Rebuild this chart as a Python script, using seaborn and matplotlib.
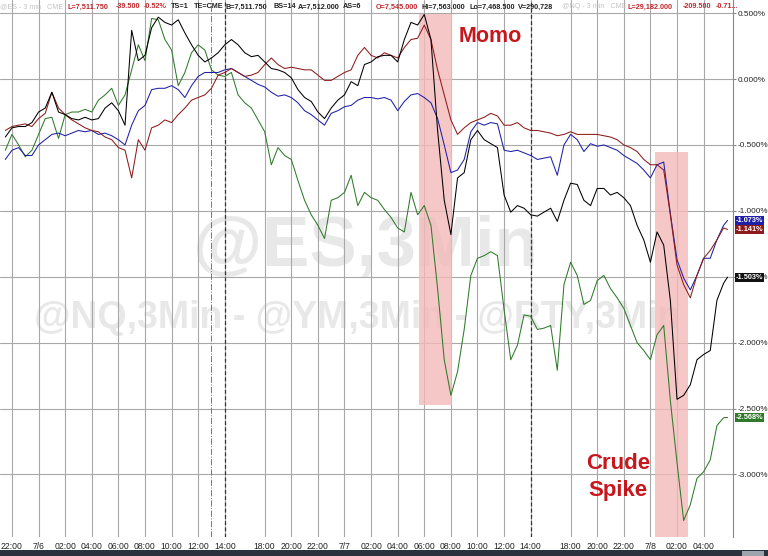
import numpy as np
import pandas as pd
import matplotlib
matplotlib.use("Agg")
import matplotlib.pyplot as plt
import seaborn as sns
from matplotlib.patches import Rectangle

# ---------------- data ----------------
# x axis = trading hours since 22:00 on 7/5 (market pause 17:00-18:00 removed)
hours = [float(v) for v in np.arange(-0.5, 53.75, 0.5)] + [53.8]

es_black = [-0.44, -0.37, -0.36, -0.36, -0.33, -0.25, -0.22, -0.10, -0.25, -0.27,
            -0.30, -0.31, -0.29, -0.31, -0.30, -0.22, -0.18, -0.24, -0.35, 0.37,
            0.14, 0.18, 0.39, 0.47, 0.43, 0.41, 0.45, 0.35, 0.26, 0.18,
            0.13, 0.16, 0.20, 0.26, 0.30, 0.26, 0.20, 0.17, 0.18, 0.13,
            0.08, 0.07, 0.05, 0.01, -0.08, -0.14, -0.17, -0.25, -0.30, -0.22,
            -0.16, -0.12, -0.02, -0.05, 0.11, 0.13, 0.17, 0.18, 0.18, 0.13,
            0.30, 0.43, 0.41, 0.49, 0.30, -0.39, -0.92, -1.18, -0.75, -0.71,
            -0.46, -0.39, -0.46, -0.49, -0.52, -0.88, -1.01, -0.96, -0.98, -1.03,
            -1.04, -1.01, -0.98, -1.08, -0.92, -0.79, -0.80, -0.92, -0.96, -0.83,
            -0.83, -0.88, -0.86, -0.90, -0.96, -1.11, -1.22, -1.39, -1.16, -1.26,
            -1.68, -2.43, -2.40, -2.32, -2.13, -2.09, -2.06, -1.68, -1.55, -1.503]

ym_red = [-0.39, -0.36, -0.35, -0.34, -0.36, -0.30, -0.26, -0.10, -0.22, -0.27,
          -0.31, -0.34, -0.37, -0.39, -0.40, -0.44, -0.46, -0.52, -0.54, -0.75,
          -0.46, -0.54, -0.37, -0.35, -0.31, -0.33, -0.27, -0.22, -0.16, -0.14,
          -0.12, -0.07, 0.03, 0.05, 0.08, 0.05, 0.02, 0.03, 0.05, 0.11,
          0.16, 0.11, 0.08, 0.09, 0.08, 0.07, 0.07, 0.03, -0.01, -0.01,
          0.02, 0.05, 0.07, 0.18, 0.24, 0.18, 0.16, 0.20, 0.18, 0.16,
          0.24, 0.30, 0.31, 0.41, 0.30, 0.07, -0.12, -0.31, -0.42, -0.37,
          -0.33, -0.31, -0.29, -0.26, -0.28, -0.35, -0.35, -0.33, -0.37, -0.39,
          -0.39, -0.40, -0.41, -0.43, -0.42, -0.40, -0.42, -0.42, -0.42, -0.42,
          -0.43, -0.44, -0.46, -0.50, -0.52, -0.55, -0.61, -0.65, -0.65, -0.69,
          -1.03, -1.41, -1.56, -1.66, -1.49, -1.36, -1.30, -1.22, -1.13, -1.141]

nq_blue = [-0.61, -0.54, -0.52, -0.58, -0.58, -0.50, -0.46, -0.42, -0.41, -0.43,
           -0.41, -0.39, -0.40, -0.39, -0.42, -0.41, -0.43, -0.46, -0.50, -0.35,
           -0.24, -0.20, -0.08, -0.07, -0.07, -0.05, -0.08, -0.14, -0.05, 0.02,
           0.05, 0.05, 0.05, 0.07, 0.08, 0.05, 0.02, -0.01, -0.04, -0.06,
           -0.10, -0.13, -0.12, -0.14, -0.18, -0.24, -0.27, -0.31, -0.35, -0.26,
           -0.24, -0.21, -0.20, -0.16, -0.14, -0.14, -0.15, -0.14, -0.16, -0.24,
           -0.17, -0.12, -0.11, -0.14, -0.18, -0.30, -0.50, -0.71, -0.69, -0.61,
           -0.40, -0.33, -0.35, -0.33, -0.34, -0.54, -0.55, -0.54, -0.56, -0.58,
           -0.61, -0.60, -0.59, -0.73, -0.50, -0.42, -0.46, -0.55, -0.49, -0.51,
           -0.50, -0.52, -0.54, -0.58, -0.61, -0.64, -0.69, -0.75, -0.65, -0.63,
           -1.02, -1.37, -1.51, -1.60, -1.49, -1.36, -1.36, -1.22, -1.11, -1.073]

rty_green = [-0.54, -0.42, -0.50, -0.59, -0.54, -0.42, -0.30, -0.29, -0.45, -0.27,
             -0.25, -0.25, -0.23, -0.25, -0.16, -0.12, -0.07, -0.20, -0.12, 0.07,
             0.26, 0.14, 0.46, 0.45, 0.30, 0.22, -0.05, 0.05, 0.20, 0.26,
             0.22, 0.07, 0.03, 0.02, 0.05, -0.12, -0.18, -0.22, -0.31, -0.40,
             -0.65, -0.52, -0.58, -0.61, -0.77, -0.92, -1.03, -1.11, -1.21, -0.92,
             -0.90, -0.86, -0.73, -0.96, -0.86, -0.90, -0.92, -0.99, -1.05, -1.13,
             -1.16, -0.86, -1.03, -0.96, -1.11, -1.59, -2.13, -2.40, -2.22, -1.90,
             -1.49, -1.36, -1.34, -1.31, -1.34, -1.75, -2.13, -2.02, -1.79, -1.80,
             -1.90, -1.89, -1.87, -2.21, -1.56, -1.39, -1.49, -1.71, -1.68, -1.53,
             -1.49, -1.59, -1.66, -1.74, -1.87, -2.00, -2.06, -2.13, -1.94, -1.87,
             -2.44, -2.91, -3.35, -3.23, -3.03, -2.98, -2.89, -2.63, -2.57, -2.568]

series_names = ["@ES", "@YM", "@NQ", "@RTY"]
series_colors = ["#000000", "#8e1b1b", "#1f1fa8", "#2f7a2a"]

tick_hours = [0, 2, 4, 6, 8, 10, 12, 14, 16, 19, 21, 23, 25, 27, 29, 31, 33, 35,
              37, 39, 42, 44, 46, 48, 50, 52]
tick_labels = ["22:00", "7/6", "02:00", "04:00", "06:00", "08:00", "10:00", "12:00",
               "14:00", "18:00", "20:00", "22:00", "7/7", "02:00", "04:00", "06:00",
               "08:00", "10:00", "12:00", "14:00", "18:00", "20:00", "22:00", "7/8",
               "02:00", "04:00"]
y_ticks = [0.5, 0.0, -0.5, -1.0, -1.5, -2.0, -2.5, -3.0]

# ---------------- figure ----------------
sns.set_style("white")
plt.rcParams["font.family"] = ["Liberation Sans", "DejaVu Sans"]

W, H = 768, 556
fig = plt.figure(figsize=(W / 100, H / 100), dpi=100)
ax = fig.add_axes([0, 1 - 537 / H, 733 / W, 537 / H])

df = pd.concat([
    pd.DataFrame({"hour": hours, "pct": vals, "series": name})
    for name, vals in zip(series_names, [es_black, ym_red, nq_blue, rty_green])
])

# highlight boxes
ax.add_patch(Rectangle((30.6, -2.473), 2.48, 2.966, facecolor="#f3b9b9",
                       edgecolor="none", alpha=0.8, zorder=1.5))
ax.add_patch(Rectangle((48.35, -3.6), 2.48, 3.046, facecolor="#f3b9b9",
                       edgecolor="none", alpha=0.8, zorder=1.5))

# draw order: green, blue, red, black on top
order = ["@RTY", "@NQ", "@YM", "@ES"]
for name in order:
    sub = df[df["series"] == name]
    sns.lineplot(data=sub, x="hour", y="pct", color=series_colors[series_names.index(name)],
                 linewidth=0.75, ax=ax, legend=False, sort=False, estimator=None, zorder=3)

ax.set_xlim(-0.9, 54.21)
ax.set_ylim(-3.475, 0.6)
ax.set_xlabel("")
ax.set_ylabel("")

ax.set_axisbelow(True)
ax.set_xticks(tick_hours)
ax.set_xticklabels(tick_labels, fontsize=6.2, color="#222222")
ax.tick_params(axis="x", length=0, pad=3.5)
ax.yaxis.tick_right()
ax.set_yticks(y_ticks)
ax.set_yticklabels([f"{v:.3f}%" for v in y_ticks], fontsize=5.9, color="#222222")
ax.tick_params(axis="y", length=2.5, width=0.8, color="#888888", pad=0.5)
ax.grid(True, color="#a8a8a8", linewidth=0.8)

for s in ["top", "left", "bottom"]:
    ax.spines[s].set_visible(False)
ax.spines["right"].set_color("#888888")
ax.spines["right"].set_linewidth(0.8)

# session markers
ax.axvline(15.0, color="#777777", linestyle="-.", linewidth=0.7, zorder=1)
ax.axvline(16.0, color="#333333", linestyle=(0, (3, 2)), linewidth=0.9, zorder=1)
ax.axvline(39.0, color="#333333", linestyle=(0, (3, 2)), linewidth=0.9, zorder=1)

# watermarks
ax.text(365 / W, 1 - 248 / H, "@ES,3Min", transform=fig.transFigure, ha="center",
        va="center", fontsize=51, fontweight="bold", color="#e8e8e8", zorder=0.2)
ax.text(357 / W, 1 - 318 / H, "@NQ,3Min - @YM,3Min - @RTY,3Min", transform=fig.transFigure,
        ha="center", va="center", fontsize=27, fontweight="bold", color="#e8e8e8", zorder=0.2)

# annotations
ax.text(35.94, 0.326, "Momo", color="#c8171c", fontsize=15.5, fontweight="bold",
        ha="center", va="center", zorder=5)
ax.text(45.56, -2.92, "Crude", color="#c8171c", fontsize=16, fontweight="bold",
        ha="center", va="center", zorder=5)
ax.text(45.56, -3.125, "Spike", color="#c8171c", fontsize=16, fontweight="bold",
        ha="center", va="center", zorder=5)

# last value labels
for vals, col in zip([nq_blue, ym_red, es_black, rty_green],
                     ["#1f1fa8", "#8e1b1b", "#111111", "#2f7a2a"]):
    v = vals[-1]
    ax.annotate(f"{v:.3f}%", xy=(1.0, v), xycoords=("axes fraction", "data"),
                xytext=(2.0, 0), textcoords="offset points", ha="left", va="center",
                fontsize=5.3, fontweight="bold", color="white", annotation_clip=False,
                bbox=dict(boxstyle="square,pad=0.12", facecolor=col, edgecolor="none"),
                zorder=6)

# header text tokens
header = [
    (0, "@ES - 3 min   CME", "#c4c4c4", "normal"),
    (67, "L=7,511.750", "#c0282d", "bold"),
    (116, "-39.500", "#c0282d", "bold"),
    (144, "-0.52%", "#c0282d", "bold"),
    (171, "TS=1", "#222222", "bold"),
    (194, "TE=CME", "#222222", "bold"),
    (226, "B=7,511.750", "#222222", "bold"),
    (273, "BS=14", "#222222", "bold"),
    (298, "A=7,512.000", "#222222", "bold"),
    (343, "AS=6", "#222222", "bold"),
    (376, "O=7,545.000", "#c0282d", "bold"),
    (422, "Hi=7,563.000", "#222222", "bold"),
    (470, "Lo=7,468.500", "#222222", "bold"),
    (518, "V=290,728", "#222222", "bold"),
    (562, "@NQ - 3 min   CME", "#c4c4c4", "normal"),
    (628, "L=29,182.000", "#c0282d", "bold"),
    (683, "-209.500", "#c0282d", "bold"),
    (716, "-0.71...", "#c0282d", "bold"),
]
for xp, txt, col, wt in header:
    fig.text(xp / W, 1 - 7 / H, txt, color=col, fontsize=5.2, fontweight=wt,
             ha="left", va="center")

# bottom bar
fig.patches.append(Rectangle((0, 0), 1, 6 / H, transform=fig.transFigure,
                             facecolor="#2c323d", edgecolor="none", zorder=0))
fig.patches.append(Rectangle((742 / W, 0), 22 / W, 5 / H, transform=fig.transFigure,
                             facecolor="#9ea4ae", edgecolor="none", zorder=1))

fig.savefig("out.png", dpi=100)
